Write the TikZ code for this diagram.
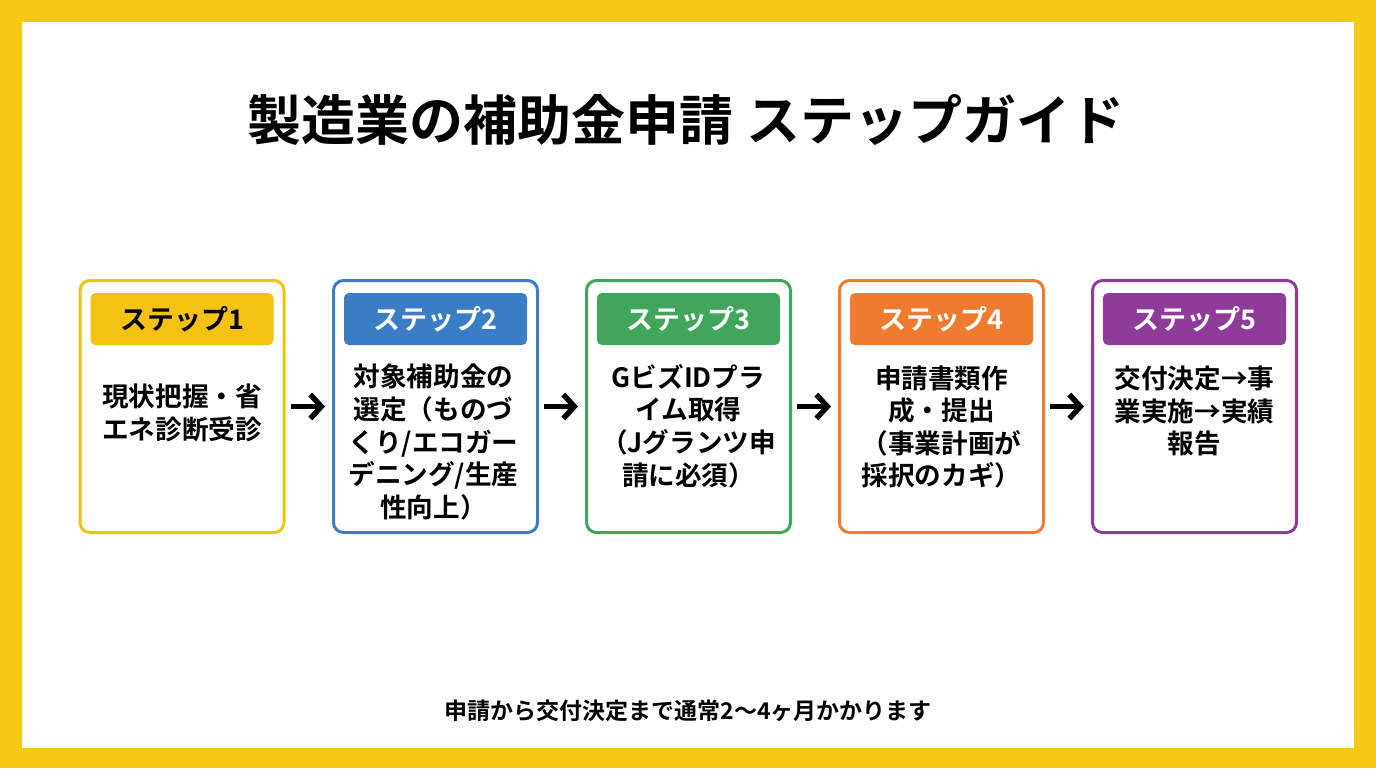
\documentclass[tikz,border=0pt]{standalone}
\usepackage{fontspec}
\setmainfont{Noto Sans CJK JP}[BoldFont={Noto Sans CJK JP Bold}]
\usepackage{xcolor}
\usepackage{tikz}
\usetikzlibrary{arrows.meta,positioning}

\definecolor{frameyellow}{HTML}{F6C915}
\definecolor{stepyellow}{HTML}{F4C212}
\definecolor{stepblue}{HTML}{3B7DC4}
\definecolor{stepgreen}{HTML}{41A55B}
\definecolor{steporange}{HTML}{EE7B30}
\definecolor{steppurple}{HTML}{8E3B9A}

\begin{document}
\begin{tikzpicture}[
    x=0.5pt, y=-0.5pt,
    box/.style={rectangle, draw, line width=1.5pt, rounded corners=5pt, fill=white, minimum width=102pt, minimum height=126pt},
    tag/.style={rectangle, rounded corners=2.5pt, minimum width=91.5pt, minimum height=26pt, text=white, font=\fontsize{13.5pt}{16pt}\selectfont\bfseries},
    body/.style={align=center, font=\fontsize{13.3pt}{16.3pt}\selectfont\bfseries},
    flow/.style={-{Straight Barb[length=5.5pt,width=12pt]}, line width=2.7pt, shorten <=2.5pt, shorten >=3.5pt}
]
    \useasboundingbox (0,0) rectangle (1376,768);
    \fill[frameyellow] (0,0) rectangle (1376,768);
    \fill[white] (22,22) rectangle (1354,748);

    \node[font=\fontsize{27pt}{32pt}\selectfont\bfseries] (title) at (686,120) {製造業の補助金申請 ステップガイド};

    % five steps
    \node[box, draw=stepyellow] (diag) at (182,406.5) {};
    \node[tag, fill=stepyellow, text=black] (diagtag) at (182,319) {ステップ1};
    \node[body] (diagtxt) at (182,413) {現状把握・省\\エネ診断受診};

    \node[box, draw=stepblue] (select) at (435.5,406.5) {};
    \node[tag, fill=stepblue] (selecttag) at (435.5,319) {ステップ2};
    \node[body] (selecttxt) at (433.5,442) {対象補助金の\\選定（ものづ\\くり/エコガー\\デニング/生産\\性向上）};

    \node[box, draw=stepgreen] (gbiz) at (688.5,406.5) {};
    \node[tag, fill=stepgreen] (gbiztag) at (688.5,319) {ステップ3};
    \node[body] (gbiztxt) at (688.5,426) {GビズIDプラ\\イム取得\\（Jグランツ申\\請に必須）};

    \node[box, draw=steporange] (apply) at (941.5,406.5) {};
    \node[tag, fill=steporange] (applytag) at (941.5,319) {ステップ4};
    \node[body] (applytxt) at (941.5,427) {申請書類作\\成・提出\\（事業計画が\\採択のカギ）};

    \node[box, draw=steppurple] (grant) at (1194.5,406.5) {};
    \node[tag, fill=steppurple] (granttag) at (1194.5,319) {ステップ5};
    \node[body] (granttxt) at (1194.5,411) {交付決定→事\\業実施→実績\\報告};

    \draw[flow] (diag) -- (select);
    \draw[flow] (select) -- (gbiz);
    \draw[flow] (gbiz) -- (apply);
    \draw[flow] (apply) -- (grant);

    \node[font=\fontsize{11.5pt}{14pt}\selectfont\bfseries] (note) at (688,711) {申請から交付決定まで通常2〜4ヶ月かかります};
\end{tikzpicture}
\end{document}
